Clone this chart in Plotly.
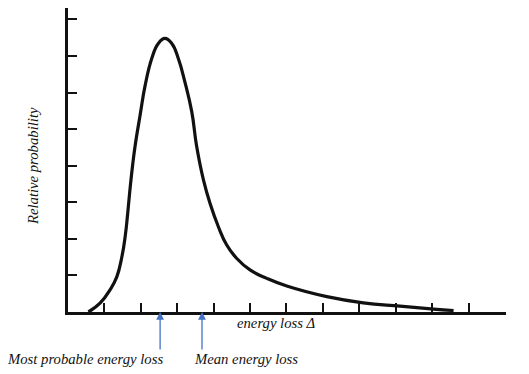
import plotly.graph_objects as go

# Curve (energy loss units, relative probability units)
energy_loss = [0.56, 0.88, 1.15, 1.34, 1.48, 1.57, 1.64, 1.70, 1.77, 1.84, 1.98,
               2.12, 2.30, 2.48, 2.66, 2.85, 3.03, 3.21, 3.40, 3.53, 3.72, 3.90,
               4.13, 4.36, 4.63, 5.00, 5.46, 6.01, 7.11, 8.11, 9.12, 10.04, 10.59]
rel_prob = [0.0, 0.24, 0.60, 0.96, 1.51, 2.06, 2.70, 3.33, 3.97, 4.52, 5.38,
            6.20, 6.93, 7.34, 7.48, 7.34, 6.93, 6.29, 5.47, 4.55, 3.61, 2.97,
            2.33, 1.83, 1.47, 1.15, 0.92, 0.71, 0.42, 0.25, 0.16, 0.08, 0.04]

x_ticks = [1, 2, 3, 4, 5, 6, 7, 8, 9, 10, 11]
y_ticks = [1, 2, 3, 4, 5, 6, 7, 8]

most_probable_x = 2.53
mean_x = 3.68

serif = "Liberation Serif"

fig = go.Figure()
fig.add_trace(go.Scatter(
    x=energy_loss, y=rel_prob, mode="lines",
    line=dict(color="#111111", width=3.2, shape="spline", smoothing=1.3),
    hoverinfo="skip", showlegend=False,
))

axis_common = dict(
    showgrid=False, zeroline=False, showline=True, linecolor="#111111",
    linewidth=2.5, ticks="inside", ticklen=9, tickwidth=2, tickcolor="#111111",
    showticklabels=False,
)
fig.update_xaxes(range=[0, 12.03], tickvals=x_ticks, **axis_common)
fig.update_yaxes(range=[0, 8.31], tickvals=y_ticks, **axis_common)

arrow_color = "#4472C4"
for xv in [most_probable_x, mean_x]:
    fig.add_annotation(
        x=xv, y=0, xref="x", yref="y", text="", showarrow=True,
        ax=0, ay=39, axref="pixel", ayref="pixel",
        arrowhead=2, arrowsize=1.2, arrowwidth=1.3, arrowcolor=arrow_color,
    )

font = dict(family=serif, size=14.7, color="#111111")
fig.add_annotation(text="<i>Relative probability</i>", xref="paper", yref="paper",
                   x=-0.08, y=0.48, textangle=-90, showarrow=False, font=font,
                   xanchor="center", yanchor="middle")
fig.add_annotation(text="<i>energy loss Δ</i>", xref="paper", yref="paper",
                   x=0.475, y=-0.036, showarrow=False, font=font,
                   xanchor="center", yanchor="middle")
fig.add_annotation(text="<i>Most probable energy loss</i>", xref="paper", yref="paper",
                   x=0.038, y=-0.155, showarrow=False, font=font,
                   xanchor="center", yanchor="middle")
fig.add_annotation(text="<i>Mean energy loss</i>", xref="paper", yref="paper",
                   x=0.4075, y=-0.155, showarrow=False, font=font,
                   xanchor="center", yanchor="middle")

# page body has an 8px margin; size the figure so the plot area lands where the reference has it
fig.update_layout(
    width=521, height=366,
    margin=dict(l=60, r=23, t=0, b=62),
    paper_bgcolor="white", plot_bgcolor="white",
)

fig.write_html("out.html")
